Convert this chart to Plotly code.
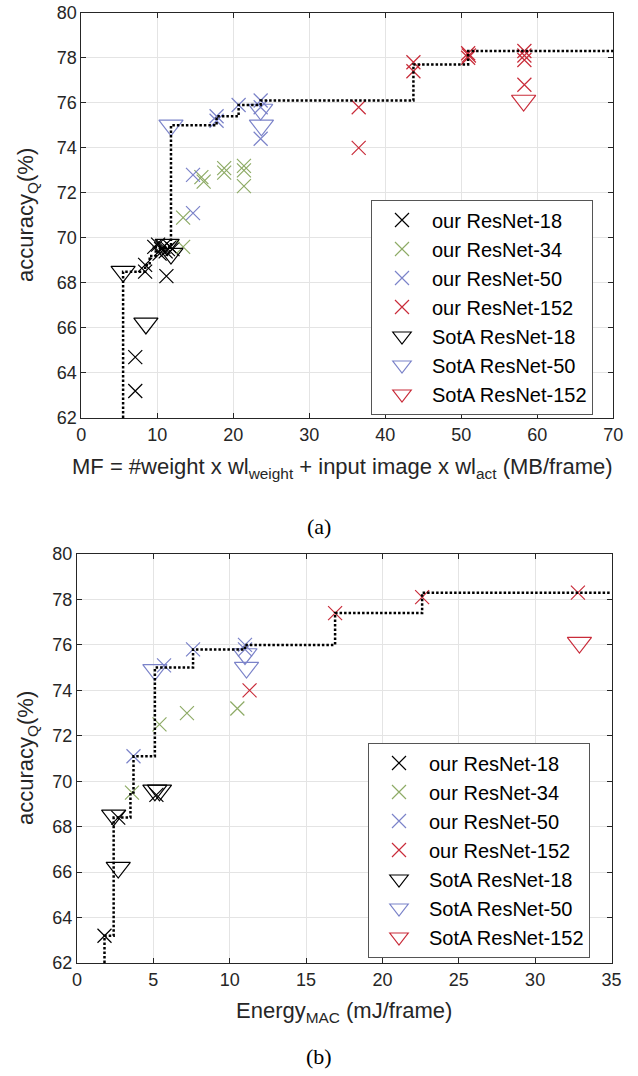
import plotly.graph_objects as go

W, H = 638, 1076

# ---------------- (a) memory footprint ----------------
a_r18_x = [7.1, 7.1, 8.4, 8.4, 11.2, 9.6, 10.1, 10.5, 10.8, 11.1, 11.4, 11.7, 12.0, 10.3]
a_r18_y = [63.2, 64.7, 68.5, 68.8, 68.3, 69.6, 69.7, 69.5, 69.6, 69.4, 69.5, 69.6, 69.5, 69.3]
a_r34_x = [13.4, 13.4, 15.8, 16.1, 18.8, 18.8, 21.4, 21.4, 21.4]
a_r34_y = [69.6, 70.9, 72.7, 72.5, 73.1, 72.9, 73.2, 73.0, 72.3]
a_r50_x = [14.7, 14.7, 17.8, 17.8, 20.7, 23.6, 23.6, 23.6]
a_r50_y = [71.1, 72.8, 75.4, 75.2, 75.9, 76.1, 75.8, 74.4]
a_r152_x = [36.5, 36.5, 43.7, 43.7, 50.9, 50.9, 51.0, 58.3, 58.3, 58.3, 58.3]
a_r152_y = [75.8, 74.0, 77.8, 77.4, 78.2, 78.0, 78.1, 78.3, 78.1, 77.9, 76.8]
a_s18_x = [5.5, 8.5, 11.3, 11.8]
a_s18_y = [68.5, 66.2, 69.7, 69.3]
a_s50_x = [11.8, 23.6, 23.7]
a_s50_y = [75.0, 75.7, 75.0]
a_s152_x = [58.2]
a_s152_y = [76.1]
a_front_x = [5.5, 5.5, 8.4, 9.0, 9.8, 11.8, 17.8, 20.7, 23.6, 43.7, 50.9, 70.0]
a_front_y = [62.0, 68.5, 68.8, 69.2, 69.6, 75.0, 75.4, 75.9, 76.1, 77.7, 78.3, 78.3]

# ---------------- (b) energy ----------------
b_r18_x = [1.8, 2.7, 5.2]
b_r18_y = [63.2, 68.4, 69.4]
b_r34_x = [3.6, 5.4, 7.2, 10.5]
b_r34_y = [69.5, 72.5, 73.0, 73.2]
b_r50_x = [3.7, 5.7, 7.6, 11.0, 11.0]
b_r50_y = [71.1, 75.1, 75.8, 76.0, 75.8]
b_r152_x = [11.3, 16.9, 22.6, 32.8]
b_r152_y = [74.0, 77.4, 78.1, 78.3]
b_s18_x = [2.4, 2.7, 5.1, 5.4]
b_s18_y = [68.5, 66.2, 69.6, 69.6]
b_s50_x = [5.1, 11.0, 11.1]
b_s50_y = [74.9, 75.6, 75.0]
b_s152_x = [32.9]
b_s152_y = [76.1]
b_front_x = [1.8, 1.8, 2.4, 3.5, 3.7, 5.1, 7.6, 11.0, 16.9, 22.6, 35.0]
b_front_y = [62.0, 63.2, 68.4, 69.5, 71.1, 75.0, 75.8, 76.0, 77.4, 78.3, 78.3]

names = ["our ResNet-18", "our ResNet-34", "our ResNet-50", "our ResNet-152",
         "SotA ResNet-18", "SotA ResNet-50", "SotA ResNet-152"]
BLACK, GREEN, BLUE, RED = "#000000", "#8eab66", "#7b83c9", "#c92c3a"
colors = [BLACK, GREEN, BLUE, RED, BLACK, BLUE, RED]
symbols = ["x-thin-open"] * 4 + ["triangle-down-open"] * 3
sizes = [14] * 4 + [21] * 3

FONT = "Liberation Sans, Arial, Helvetica, sans-serif"
SERIF = "Liberation Serif"
TXT = "#262626"

fig = go.Figure()

def add_panel(series, front, xa, ya, leg):
    for i, (xs, ys) in enumerate(series):
        fig.add_trace(go.Scatter(
            x=xs, y=ys, mode="markers", name=names[i],
            xaxis=xa, yaxis=ya, legend=leg,
            marker=dict(symbol=symbols[i], size=sizes[i], color=colors[i],
                        line=dict(color=colors[i], width=1.2)),
            cliponaxis=False,
        ))
    fig.add_trace(go.Scatter(
        x=front[0], y=front[1], mode="lines", showlegend=False,
        xaxis=xa, yaxis=ya, legend=leg,
        line=dict(shape="hv", dash="2.5px,2px", width=2.5, color="black"),
    ))

add_panel([(a_r18_x, a_r18_y), (a_r34_x, a_r34_y), (a_r50_x, a_r50_y), (a_r152_x, a_r152_y),
           (a_s18_x, a_s18_y), (a_s50_x, a_s50_y), (a_s152_x, a_s152_y)],
          (a_front_x, a_front_y), "x", "y", "legend")
add_panel([(b_r18_x, b_r18_y), (b_r34_x, b_r34_y), (b_r50_x, b_r50_y), (b_r152_x, b_r152_y),
           (b_s18_x, b_s18_y), (b_s50_x, b_s50_y), (b_s152_x, b_s152_y)],
          (b_front_x, b_front_y), "x2", "y2", "legend2")

def px_x(p):
    return p / W

def px_y(p):
    return 1 - p / H

axis_common = dict(
    ticks="inside", ticklen=5, tickcolor=TXT, tickwidth=1,
    showline=True, linecolor=TXT, linewidth=1, mirror="ticks",
    showgrid=True, gridcolor="#e4e4e4", gridwidth=1, zeroline=False,
    tickfont=dict(family=FONT, size=18, color=TXT), automargin=False,
)

legend_common = dict(
    xanchor="left", yanchor="middle",
    bgcolor="white", bordercolor="#555555", borderwidth=1,
    font=dict(family=FONT, size=20, color="#000000"),
    itemsizing="trace", itemwidth=50,
)

fig.update_layout(
    width=W, height=H,
    margin=dict(l=0, r=0, t=0, b=0),
    paper_bgcolor="white", plot_bgcolor="white",
    font=dict(family=FONT, color=TXT),
    xaxis=dict(axis_common, domain=[px_x(81.3), px_x(613.3)], range=[0, 70], dtick=10,
               anchor="y"),
    yaxis=dict(axis_common, domain=[px_y(418), px_y(12.7)], range=[62, 80], dtick=2,
               anchor="x"),
    xaxis2=dict(axis_common, domain=[px_x(77), px_x(611.5)], range=[0, 35], dtick=5,
                anchor="y2"),
    yaxis2=dict(axis_common, domain=[px_y(963), px_y(554)], range=[62, 80], dtick=2,
                anchor="x2"),
    legend=dict(legend_common, x=px_x(371), y=px_y(307)),
    legend2=dict(legend_common, x=px_x(368), y=px_y(850)),
    showlegend=True,
)

ann = []
ann.append(dict(text="MF = #weight x wl<sub>weight</sub> + input image x wl<sub>act</sub> (MB/frame)",
                x=px_x(342), y=px_y(468), xref="paper", yref="paper", showarrow=False,
                xanchor="center", yanchor="middle", font=dict(family=FONT, size=22, color=TXT)))
ann.append(dict(text="accuracy<sub>Q</sub>(%)", textangle=-90,
                x=px_x(27), y=px_y(215), xref="paper", yref="paper", showarrow=False,
                xanchor="center", yanchor="middle", font=dict(family=FONT, size=22, color=TXT)))
ann.append(dict(text="Energy<sub>MAC</sub> (mJ/frame)",
                x=px_x(344), y=px_y(1012), xref="paper", yref="paper", showarrow=False,
                xanchor="center", yanchor="middle", font=dict(family=FONT, size=22, color=TXT)))
ann.append(dict(text="accuracy<sub>Q</sub>(%)", textangle=-90,
                x=px_x(27), y=px_y(758), xref="paper", yref="paper", showarrow=False,
                xanchor="center", yanchor="middle", font=dict(family=FONT, size=22, color=TXT)))
ann.append(dict(text="(a)", x=px_x(319), y=px_y(526), xref="paper", yref="paper",
                showarrow=False, xanchor="center", yanchor="middle",
                font=dict(family=SERIF, size=22, color="#000")))
ann.append(dict(text="(b)", x=px_x(319), y=px_y(1056), xref="paper", yref="paper",
                showarrow=False, xanchor="center", yanchor="middle",
                font=dict(family=SERIF, size=22, color="#000")))
fig.update_layout(annotations=ann)

fig.write_html("out.html")
